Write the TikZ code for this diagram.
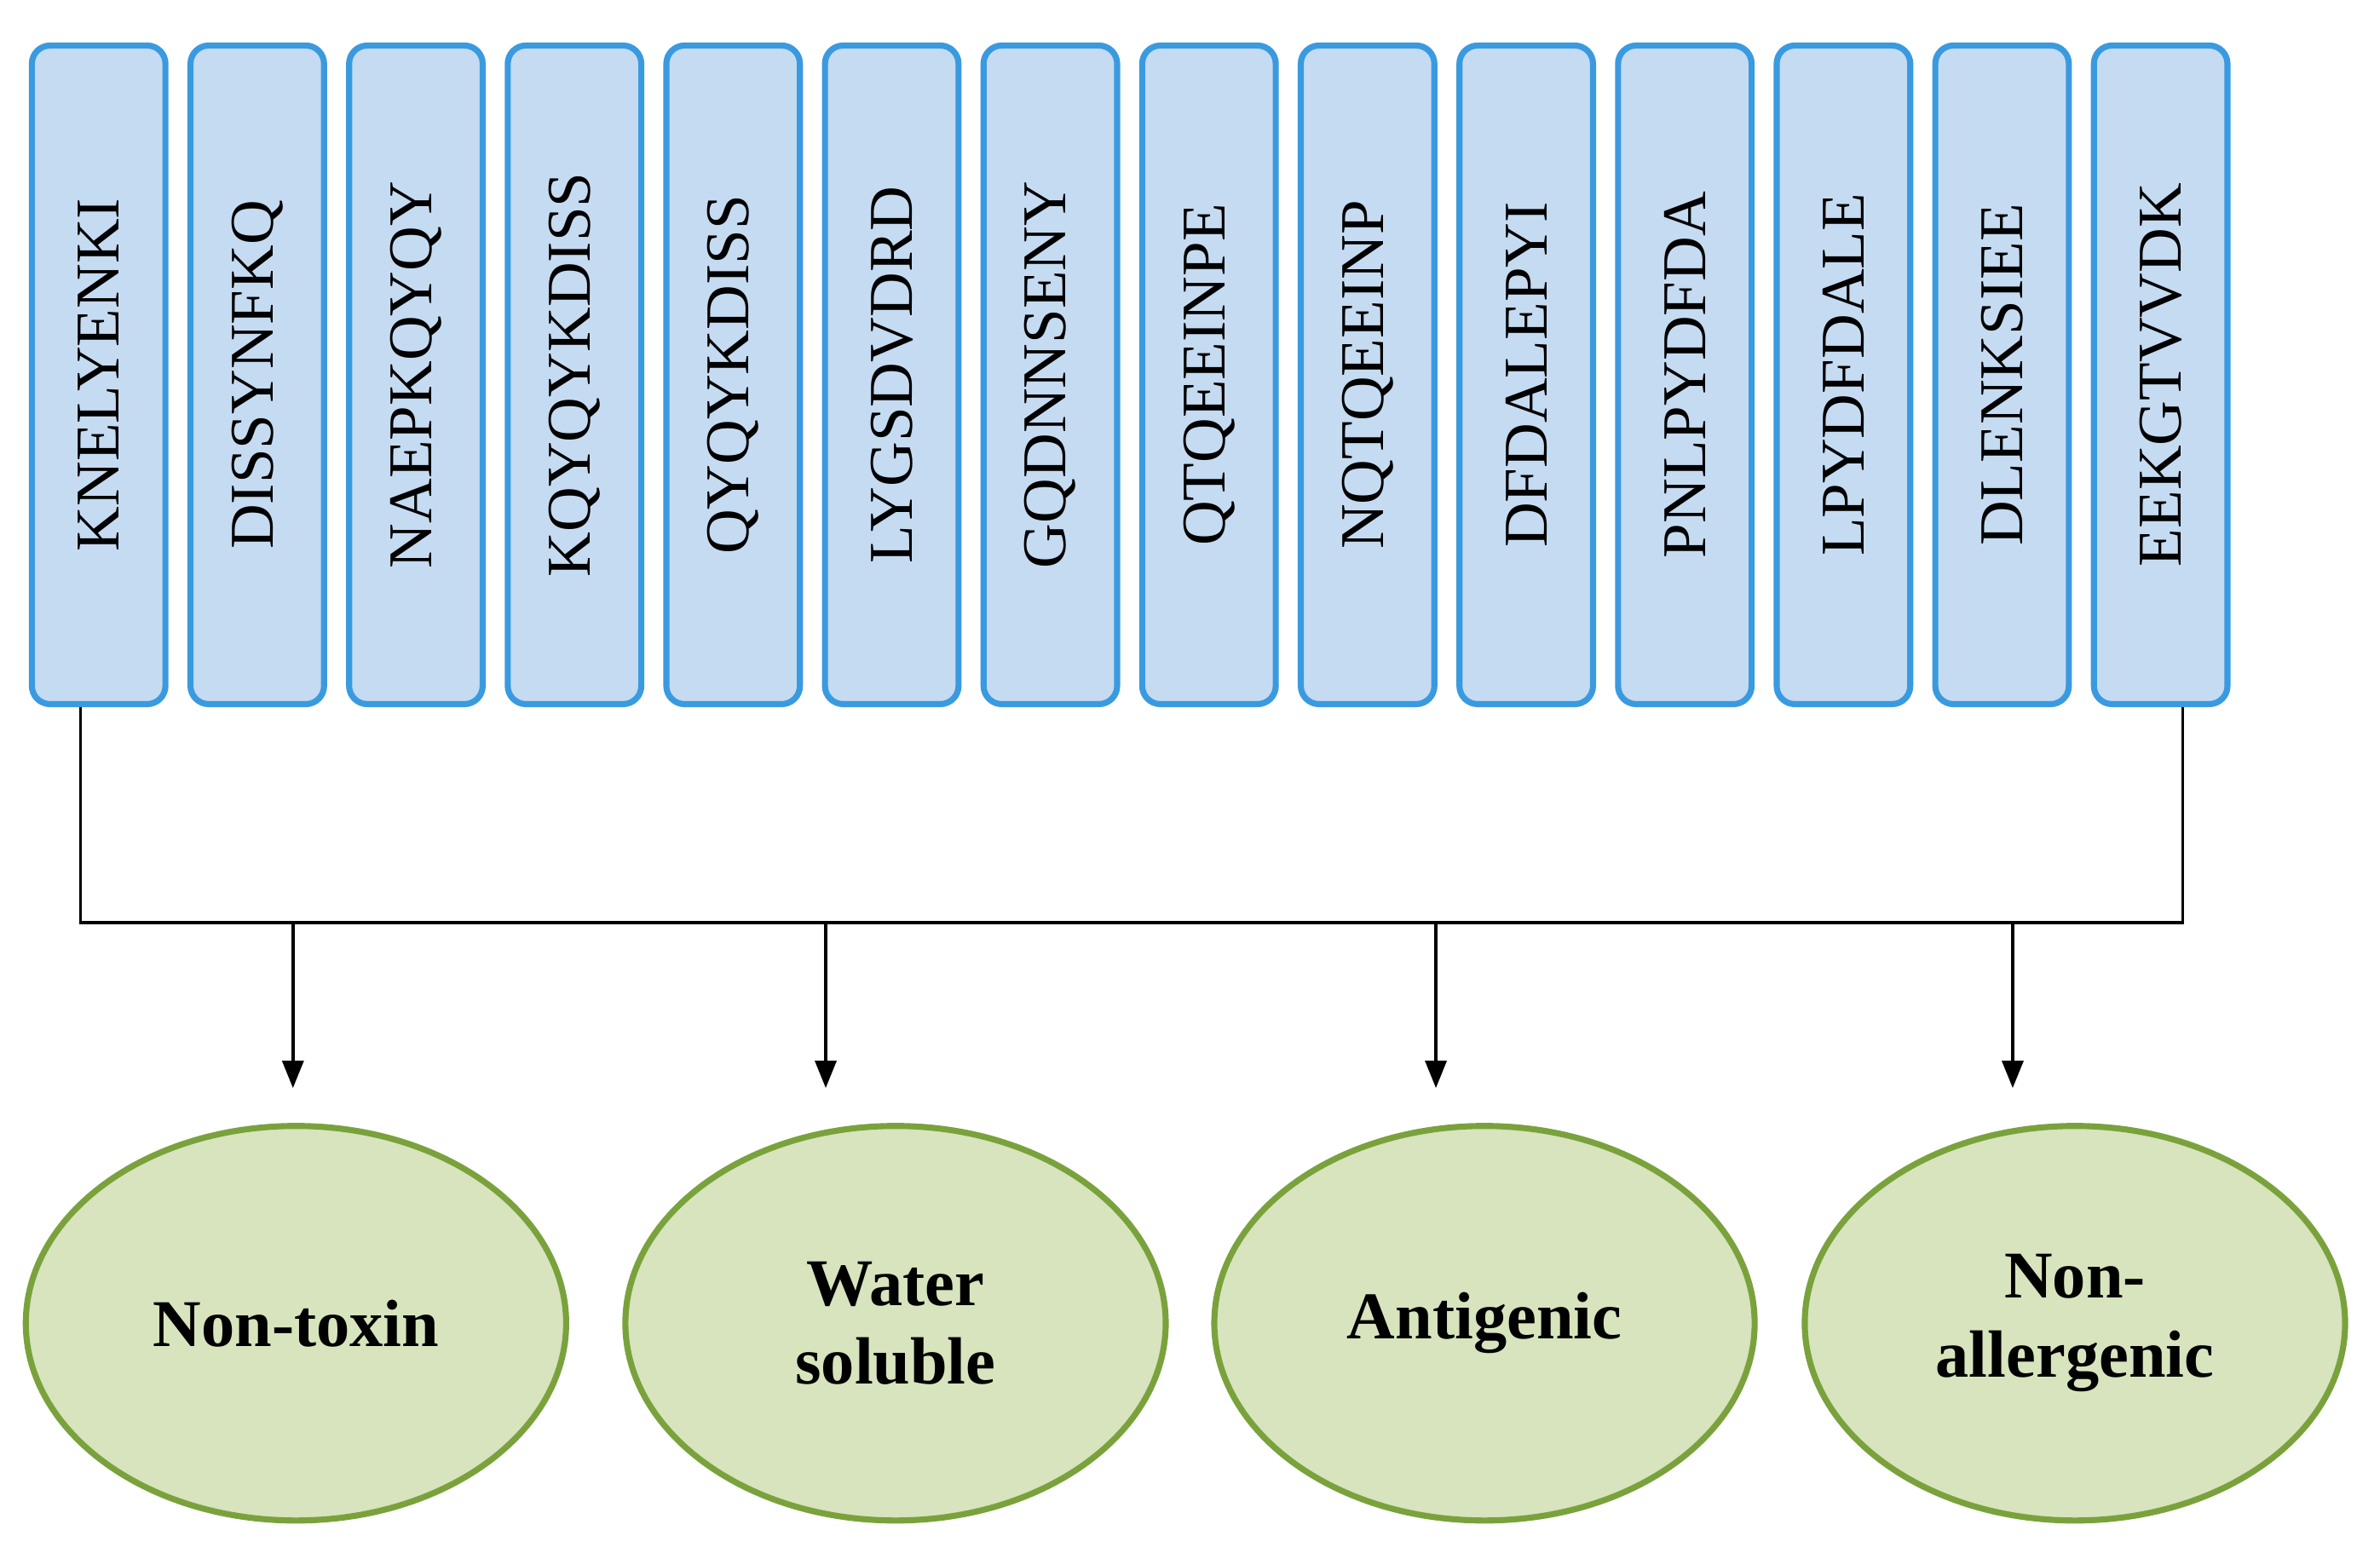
\documentclass[tikz,border=0pt]{standalone}
\usepackage{fontspec}
\setmainfont{Liberation Serif}
\usetikzlibrary{shapes.geometric,arrows.meta}
\definecolor{boxfill}{HTML}{C5DBF1}
\definecolor{boxline}{HTML}{3A9AE0}
\definecolor{ellfill}{HTML}{D7E4BD}
\definecolor{ellline}{HTML}{7AA23C}
\tikzset{
  pep/.style={draw=boxline,fill=boxfill,line width=2pt,rounded corners=6pt,minimum width=44pt,minimum height=217pt,inner sep=0pt},
  peptxt/.style={rotate=90,font=\fontsize{20.5}{20.5}\selectfont},
  prop/.style={ellipse,draw=ellline,fill=ellfill,line width=2pt,minimum width=178pt,minimum height=130pt,align=center,font=\fontsize{22}{26}\bfseries},
  con/.style={line width=1pt,black},
  arr/.style={con,-{Triangle[length=9pt,width=7pt]}}
}
\begin{document}
\begin{tikzpicture}[x=0.5pt,y=-0.5pt]
\useasboundingbox (0,0) rectangle (1568,1027);
\foreach \t [count=\i] in {KNELYENKI,DISSYNFKQ,NAEPKQYQY,KQYQYKDISS,QYQYKDISS,LYGSDVDRD,GQDNNSENY,QTQEEINPE,NQTQEEINP,DFDALEPYI,PNLPYDFDA,LPYDFDALE,DLENKSIEE,EEKGTVVDK}{
  \node[pep] (b\i) at ({65+(\i-1)*104.5},247) {};
  \node[peptxt] (t\i) at ({65+(\i-1)*104.5},247) {\t};
}
\node[prop] (e1) at (195,872) {Non-toxin};
\node[prop] (e2) at (590,872) {Water\\soluble};
\node[prop] (e3) at (978,872) {Antigenic};
\node[prop] (e4) at (1367,872) {Non-\\allergenic};
\coordinate (l) at (53,608);
\coordinate (r) at (1438,608);
\draw[con] (b1.south -| l) -- (l) -- (r) -- (b14.south -| r);
\foreach \x/\e in {193/e1,544/e2,946/e3,1326/e4}{
  \coordinate (s\e) at (\x,608);
  \coordinate (d\e) at (\x,717);
  \draw[arr] (s\e) -- (d\e);
}
\end{tikzpicture}
\end{document}
